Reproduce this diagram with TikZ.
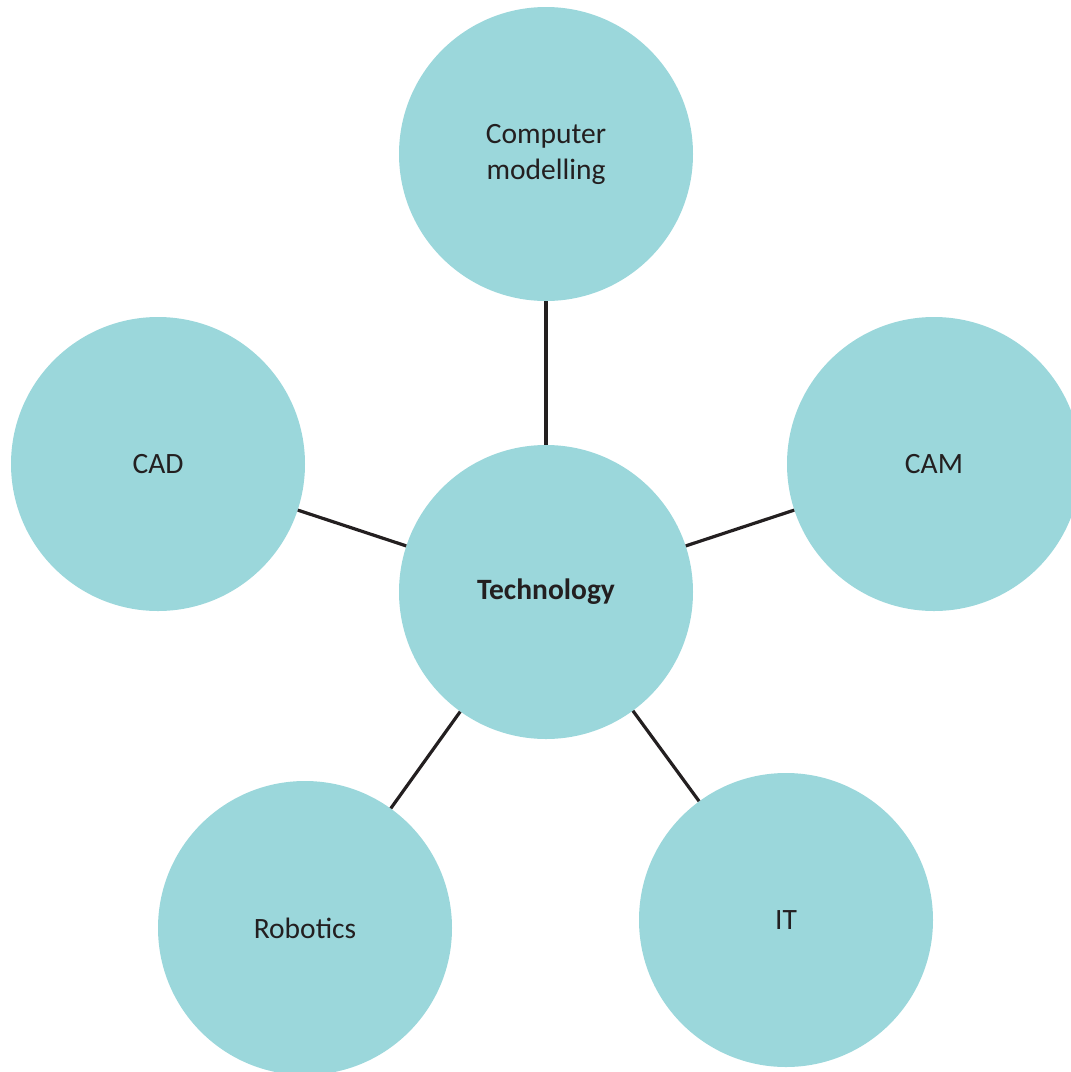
\documentclass[tikz,border=0pt]{standalone}
\usepackage{fontspec}
\setmainfont{Carlito}
\begin{document}
\begin{tikzpicture}[x=1pt,y=-1pt,
  bubble/.style={circle,fill=bubblefill,minimum size=294pt,inner sep=0pt,
    align=center,text=inkdark,font=\fontsize{29.5}{36}\selectfont},
  link/.style={draw=inkdark,line width=3.2pt}]
\definecolor{bubblefill}{HTML}{9BD7DB}
\definecolor{inkdark}{HTML}{231F20}
\useasboundingbox (0,0) rectangle (1071,1072);
\clip (0,0) rectangle (1071,1072);
\node[bubble] (tech) at (546,592) {\bfseries Technology};
\node[bubble] (model) at (546,154) {Computer\\modelling};
\node[bubble] (cad) at (158,464) {CAD};
\node[bubble] (cam) at (934,464) {CAM};
\node[bubble] (robo) at (305,928) {Robotics};
\node[bubble] (it) at (786,920) {IT};
\draw[link] (tech) -- (model);
\draw[link] (tech) -- (cad);
\draw[link] (tech) -- (cam);
\draw[link] (tech) -- (robo);
\draw[link] (tech) -- (it);
\end{tikzpicture}
\end{document}
